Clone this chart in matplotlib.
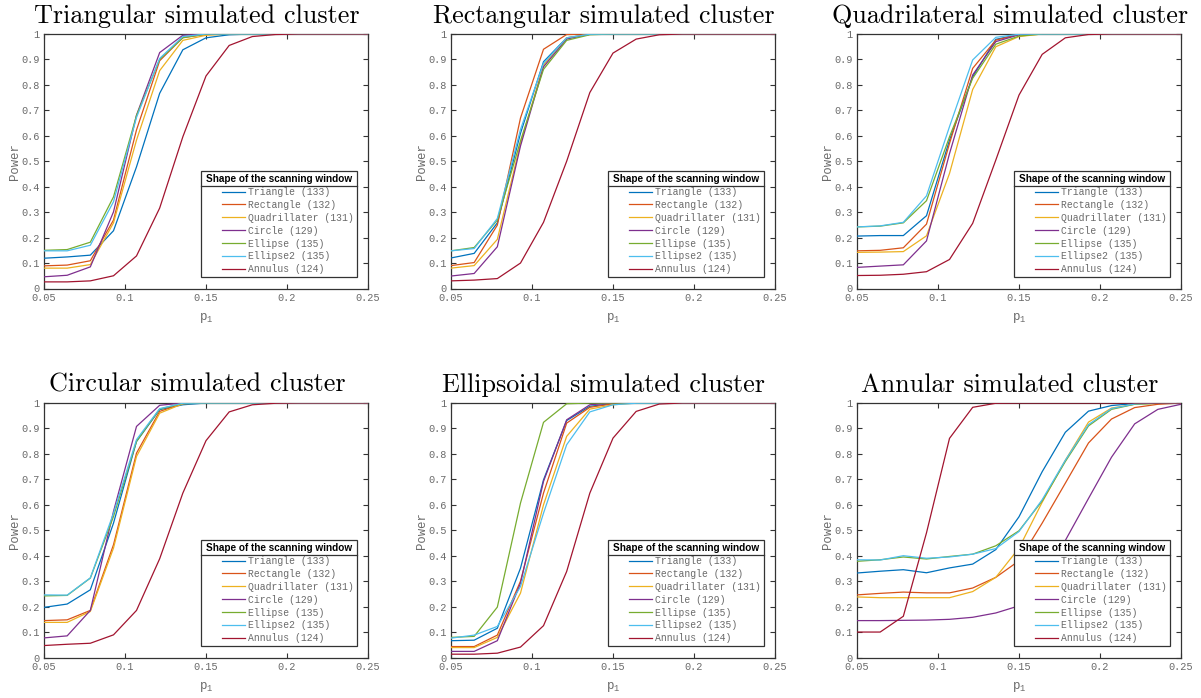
import matplotlib
matplotlib.use("Agg")
import matplotlib.pyplot as plt
from matplotlib.lines import Line2D
from matplotlib.legend_handler import HandlerBase
from matplotlib.font_manager import FontProperties

# p1 grid (15 points from 0.05 to 0.25)
p1 = [0.05, 0.0643, 0.0786, 0.0929, 0.1071, 0.1214, 0.1357, 0.15,
      0.1643, 0.1786, 0.1929, 0.2071, 0.2214, 0.2357, 0.25]

window_labels = ["Triangle (133)", "Rectangle (132)", "Quadrillater (131)", "Circle (129)",
                 "Ellipse (135)", "Ellipse2 (135)", "Annulus (124)"]
window_colors = ["#0072BD", "#D95319", "#EDB120", "#7E2F8E", "#77AC30", "#4DBEEE", "#A2142F"]

titles = ["Triangular simulated cluster", "Rectangular simulated cluster",
          "Quadrilateral simulated cluster", "Circular simulated cluster",
          "Ellipsoidal simulated cluster", "Annular simulated cluster"]

# power curves, one list per scanning window, per simulated cluster
tri_cluster = [
    [0.119, 0.124, 0.131, 0.227, 0.478, 0.767, 0.938, 0.985, 0.997, 1, 1, 1, 1, 1, 1],
    [0.089, 0.092, 0.109, 0.269, 0.623, 0.895, 0.986, 0.998, 1, 1, 1, 1, 1, 1, 1],
    [0.080, 0.080, 0.094, 0.258, 0.583, 0.856, 0.975, 0.995, 1, 1, 1, 1, 1, 1, 1],
    [0.046, 0.052, 0.085, 0.301, 0.681, 0.927, 0.995, 1, 1, 1, 1, 1, 1, 1, 1],
    [0.150, 0.153, 0.182, 0.360, 0.680, 0.900, 0.985, 1, 1, 1, 1, 1, 1, 1, 1],
    [0.148, 0.148, 0.170, 0.341, 0.672, 0.904, 0.990, 1, 1, 1, 1, 1, 1, 1, 1],
    [0.026, 0.026, 0.030, 0.050, 0.128, 0.316, 0.596, 0.835, 0.955, 0.990, 0.998, 1, 1, 1, 1],
]
rect_cluster = [
    [0.120, 0.138, 0.258, 0.610, 0.891, 0.985, 0.999, 1, 1, 1, 1, 1, 1, 1, 1],
    [0.090, 0.102, 0.249, 0.670, 0.940, 0.998, 1, 1, 1, 1, 1, 1, 1, 1, 1],
    [0.080, 0.090, 0.193, 0.570, 0.878, 0.985, 0.999, 1, 1, 1, 1, 1, 1, 1, 1],
    [0.049, 0.059, 0.164, 0.560, 0.871, 0.980, 0.999, 1, 1, 1, 1, 1, 1, 1, 1],
    [0.148, 0.161, 0.269, 0.580, 0.861, 0.975, 0.997, 1, 1, 1, 1, 1, 1, 1, 1],
    [0.148, 0.157, 0.275, 0.625, 0.885, 0.985, 0.999, 1, 1, 1, 1, 1, 1, 1, 1],
    [0.030, 0.033, 0.039, 0.100, 0.260, 0.500, 0.770, 0.925, 0.980, 0.997, 1, 1, 1, 1, 1],
]
quad_cluster = [
    [0.206, 0.208, 0.208, 0.286, 0.583, 0.832, 0.979, 0.998, 1, 1, 1, 1, 1, 1, 1],
    [0.148, 0.150, 0.160, 0.253, 0.570, 0.865, 0.976, 0.998, 1, 1, 1, 1, 1, 1, 1],
    [0.142, 0.143, 0.145, 0.207, 0.452, 0.782, 0.950, 0.990, 1, 1, 1, 1, 1, 1, 1],
    [0.083, 0.088, 0.093, 0.187, 0.530, 0.839, 0.970, 0.997, 1, 1, 1, 1, 1, 1, 1],
    [0.242, 0.245, 0.258, 0.345, 0.596, 0.826, 0.960, 0.992, 1, 1, 1, 1, 1, 1, 1],
    [0.242, 0.246, 0.260, 0.364, 0.636, 0.898, 0.987, 0.999, 1, 1, 1, 1, 1, 1, 1],
    [0.051, 0.052, 0.056, 0.066, 0.114, 0.256, 0.505, 0.760, 0.920, 0.985, 0.998, 1, 1, 1, 1],
]
circ_cluster = [
    [0.197, 0.210, 0.266, 0.528, 0.849, 0.974, 0.993, 1, 1, 1, 1, 1, 1, 1, 1],
    [0.145, 0.148, 0.185, 0.443, 0.803, 0.967, 0.998, 1, 1, 1, 1, 1, 1, 1, 1],
    [0.138, 0.138, 0.181, 0.430, 0.790, 0.960, 0.997, 1, 1, 1, 1, 1, 1, 1, 1],
    [0.077, 0.085, 0.185, 0.574, 0.908, 0.991, 1, 1, 1, 1, 1, 1, 1, 1, 1],
    [0.242, 0.244, 0.312, 0.554, 0.849, 0.976, 0.999, 1, 1, 1, 1, 1, 1, 1, 1],
    [0.246, 0.245, 0.313, 0.567, 0.856, 0.978, 0.999, 1, 1, 1, 1, 1, 1, 1, 1],
    [0.047, 0.052, 0.056, 0.089, 0.185, 0.388, 0.646, 0.852, 0.965, 0.993, 0.999, 1, 1, 1, 1],
]
ell_cluster = [
    [0.066, 0.068, 0.115, 0.351, 0.698, 0.931, 0.987, 0.998, 1, 1, 1, 1, 1, 1, 1],
    [0.043, 0.043, 0.088, 0.300, 0.646, 0.921, 0.983, 0.997, 1, 1, 1, 1, 1, 1, 1],
    [0.039, 0.039, 0.079, 0.253, 0.600, 0.869, 0.976, 0.993, 1, 1, 1, 1, 1, 1, 1],
    [0.024, 0.024, 0.066, 0.292, 0.692, 0.934, 0.993, 1, 1, 1, 1, 1, 1, 1, 1],
    [0.079, 0.083, 0.198, 0.607, 0.924, 0.997, 1, 1, 1, 1, 1, 1, 1, 1, 1],
    [0.076, 0.088, 0.122, 0.279, 0.567, 0.836, 0.965, 0.993, 0.999, 1, 1, 1, 1, 1, 1],
    [0.013, 0.013, 0.017, 0.041, 0.125, 0.338, 0.646, 0.862, 0.967, 0.996, 1, 1, 1, 1, 1],
]
ann_cluster = [
    [0.332, 0.339, 0.345, 0.333, 0.352, 0.367, 0.424, 0.553, 0.730, 0.885, 0.968, 0.990, 0.998, 1, 1],
    [0.246, 0.252, 0.257, 0.254, 0.254, 0.273, 0.315, 0.380, 0.528, 0.685, 0.843, 0.937, 0.982, 0.995, 1],
    [0.238, 0.235, 0.235, 0.235, 0.235, 0.259, 0.315, 0.430, 0.610, 0.775, 0.925, 0.980, 0.995, 0.999, 1],
    [0.145, 0.145, 0.146, 0.147, 0.150, 0.158, 0.175, 0.203, 0.310, 0.460, 0.625, 0.787, 0.918, 0.975, 0.995],
    [0.378, 0.384, 0.395, 0.387, 0.397, 0.406, 0.439, 0.498, 0.615, 0.770, 0.910, 0.975, 0.995, 0.999, 1],
    [0.384, 0.383, 0.400, 0.390, 0.395, 0.406, 0.428, 0.495, 0.620, 0.775, 0.915, 0.978, 0.996, 1, 1],
    [0.100, 0.100, 0.162, 0.490, 0.861, 0.983, 0.999, 1, 1, 1, 1, 1, 1, 1, 1],
]
clusters = [tri_cluster, rect_cluster, quad_cluster, circ_cluster, ell_cluster, ann_cluster]

xticks = [0.05, 0.1, 0.15, 0.2, 0.25]
xticklabels = ["0.05", "0.1", "0.15", "0.2", "0.25"]
yticks = [0, 0.1, 0.2, 0.3, 0.4, 0.5, 0.6, 0.7, 0.8, 0.9, 1]
yticklabels = ["0", "0.1", "0.2", "0.3", "0.4", "0.5", "0.6", "0.7", "0.8", "0.9", "1"]

plt.rcParams["mathtext.fontset"] = "custom"
plt.rcParams["mathtext.rm"] = "Liberation Mono"
plt.rcParams["mathtext.it"] = "Liberation Mono"

mono = "Liberation Mono"
txt_gray = "#6a6a6a"
axis_col = "#333333"


class GapLine(HandlerBase):
    # MATLAB style legend: line sits in the right part of the handle box
    def create_artists(self, legend, orig, xd, yd, w, h, fs, trans):
        y = h / 2 - yd
        ln = Line2D([-xd + w * 0.42, -xd + w], [y, y], color=orig.get_color(),
                    lw=orig.get_linewidth(), transform=trans)
        return [ln]


fig = plt.figure(figsize=(12.01, 6.98), dpi=100)
W, H = 1201, 698
lefts = [44, 451, 857]
tops = [34, 403]
aw, ah = 324, 254.5

legends = []
for k, (ttl, data) in enumerate(zip(titles, clusters)):
    r, c = divmod(k, 3)
    ax = fig.add_axes([lefts[c] / W, (H - tops[r] - ah) / H, aw / W, ah / H])
    handles = []
    for vals, lab, col in zip(data, window_labels, window_colors):
        h, = ax.plot(p1, vals, color=col, lw=0.9, label=lab, zorder=3)
        handles.append(h)
    ax.set_xlim(0.05, 0.25)
    ax.set_ylim(0, 1)
    ax.set_xticks(xticks)
    ax.set_xticklabels(xticklabels)
    ax.set_yticks(yticks)
    ax.set_yticklabels(yticklabels)
    ax.tick_params(direction="in", length=3.5, width=0.8, color=axis_col,
                   top=True, right=True, labelsize=7.4, labelcolor=txt_gray, pad=3)
    for lab in ax.get_xticklabels() + ax.get_yticklabels():
        lab.set_fontfamily(mono)
    for sp in ax.spines.values():
        sp.set_color(axis_col)
        sp.set_linewidth(0.9)
    ax.set_ylabel("Power", fontfamily=mono, fontsize=8.8, color=txt_gray, labelpad=0.5)
    ax.set_xlabel(r"$\mathrm{p}_1$", fontsize=9, color=txt_gray, labelpad=6)
    ttl_txt = ax.set_title(ttl, fontfamily="cmr10", fontsize=18.8, color="black", pad=8)
    ttl_txt.set_x(0.472)

    leg = ax.legend(handles=handles, loc="lower right", bbox_to_anchor=(1, 0),
                    prop=FontProperties(family=mono, size=7),
                    title="Shape of the scanning window",
                    title_fontproperties=FontProperties(family="Liberation Sans", weight="bold", size=7.2),
                    handler_map={Line2D: GapLine()},
                    handlelength=4.2, handletextpad=0.3, labelspacing=0.3,
                    borderpad=0.3, borderaxespad=1.15, fancybox=False, framealpha=1,
                    edgecolor=axis_col)
    leg.get_frame().set_linewidth(0.9)
    for t in leg.get_texts():
        t.set_color(txt_gray)
    legends.append(leg)

# separator line between legend title and entries
fig.canvas.draw()
rend = fig.canvas.get_renderer()
inv = fig.transFigure.inverted()
for leg in legends:
    fb = leg.get_frame().get_window_extent(rend)
    tb = leg.get_title().get_window_extent(rend)
    y = tb.y0 - 2
    (x0, y0), (x1, _) = inv.transform([(fb.x0, y), (fb.x1, y)])
    fig.add_artist(Line2D([x0, x1], [y0, y0], color=axis_col, lw=0.9, zorder=10))

fig.savefig("out.png", dpi=100)
